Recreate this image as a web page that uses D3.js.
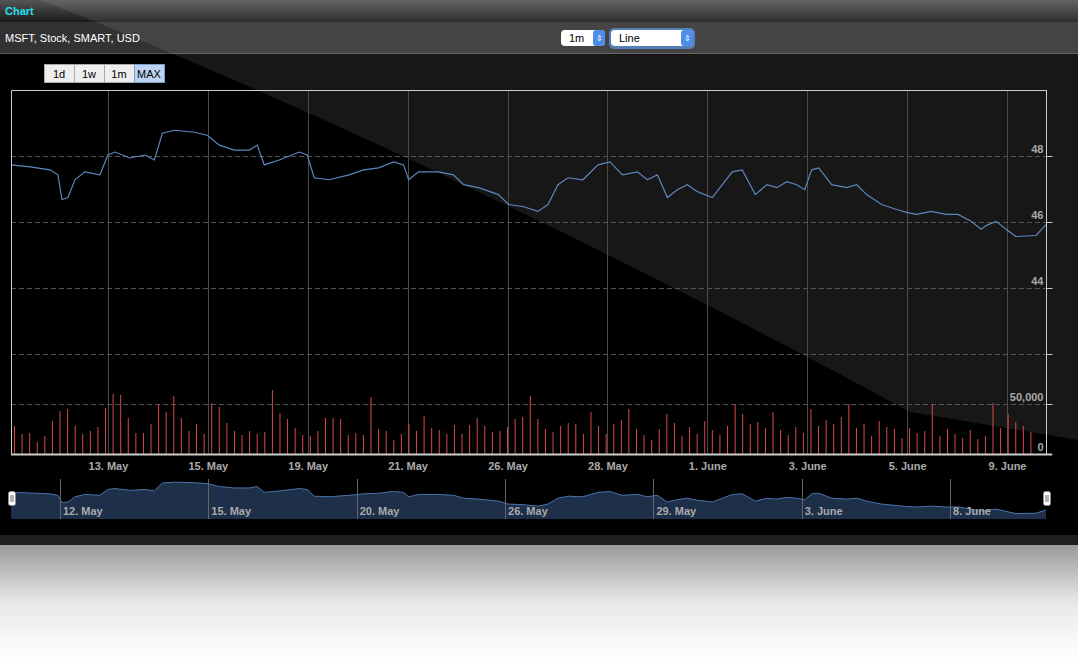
<!DOCTYPE html>
<html><head><meta charset="utf-8">
<script src="https://cdn.jsdelivr.net/npm/d3@7"></script>
<style>body{margin:0;background:#fff;font-family:"Liberation Sans",Arial,sans-serif}</style>
</head><body><div id="chart"></div>
<script>
// price samples: [trading day offset, price]
var priceT = [0,0.38,0.78,0.94,1.02,1.14,1.28,1.48,1.78,1.94,2.08,2.38,2.68,2.87,3.03,3.27,3.67,3.93,4.17,4.47,4.77,4.93,5.07,5.37,5.77,5.93,6.07,6.37,6.77,7.06,7.36,7.66,7.86,7.96,8.16,8.56,8.86,9.06,9.36,9.76,9.96,10.25,10.55,10.75,10.95,11.15,11.45,11.75,11.99,12.24,12.54,12.74,12.94,13.14,13.34,13.54,13.74,14.04,14.24,14.44,14.64,14.90,15.13,15.33,15.53,15.73,15.89,16.03,16.17,16.43,16.73,16.93,17.13,17.43,17.73,17.93,18.13,18.42,18.72,18.96,19.22,19.42,19.52,19.72,19.92,20.12,20.52,20.72];
var priceV = [47.73,47.67,47.58,47.43,46.68,46.74,47.28,47.52,47.43,48.03,48.12,47.94,48.03,47.88,48.69,48.78,48.72,48.63,48.33,48.18,48.18,48.33,47.73,47.88,48.12,48.03,47.34,47.28,47.43,47.58,47.64,47.82,47.73,47.28,47.52,47.52,47.43,47.13,47.04,46.83,46.53,46.47,46.32,46.53,47.13,47.34,47.28,47.73,47.82,47.43,47.52,47.28,47.43,46.74,46.98,47.13,46.92,46.74,47.13,47.52,47.58,46.83,47.13,47.04,47.22,47.13,46.98,47.58,47.64,47.13,47.04,47.13,46.83,46.53,46.38,46.29,46.23,46.32,46.23,46.23,46.02,45.78,45.89,46.02,45.78,45.56,45.59,45.92];
var volumes = [28,20,21,12,18,33,43,45,28,20,23,27,46,60,59,36,21,21,30,50,42,58,36,23,30,20,51,47,31,23,19,23,20,22,64,41,35,26,19,18,23,36,36,35,19,21,19,57,25,23,14,20,30,23,38,26,24,20,29,20,29,36,28,22,23,27,35,37,58,35,25,22,28,31,30,20,42,28,20,30,34,45,25,19,14,25,40,31,18,27,20,33,24,19,28,50,40,30,32,26,42,24,19,27,21,45,28,34,30,37,50,26,30,18,33,27,25,16,26,21,23,50,18,25,20,16,24,15,18,51,26,40,32,28,22];
var dayTicks = [2,4,6,8,10,12,14,16,18,20];
var dayLabels = ["13. May","15. May","19. May","21. May","26. May","28. May","1. June","3. June","5. June","9. June"];
var navTicks = [1,4,7,10,13,16,19];
var navLabels = ["12. May","15. May","20. May","26. May","29. May","3. June","8. June"];
var priceTicks = [42,44,46,48];
var volTicks = [0,50];

var W = 1078, H = 660;
var svg = d3.select("#chart").append("svg").attr("width", W).attr("height", H);
var defs = svg.append("defs");

var refl = defs.append("linearGradient").attr("id","refl").attr("x1",0).attr("y1",0).attr("x2",0).attr("y2",1);
refl.append("stop").attr("offset",0).attr("stop-color","#9a9a9a");
refl.append("stop").attr("offset",0.5).attr("stop-color","#e8e8e8");
refl.append("stop").attr("offset",1).attr("stop-color","#ffffff");
svg.append("rect").attr("x",0).attr("y",545).attr("width",W).attr("height",115).attr("fill","url(#refl)");

svg.append("rect").attr("x",0).attr("y",0).attr("width",W).attr("height",545).attr("fill","#000");
var hdr = defs.append("linearGradient").attr("id","hdr").attr("x1",0).attr("y1",0).attr("x2",0).attr("y2",1);
hdr.append("stop").attr("offset",0).attr("stop-color","#555");
hdr.append("stop").attr("offset",1).attr("stop-color","#1a1a1a");
svg.append("rect").attr("x",0).attr("y",0).attr("width",W).attr("height",22).attr("fill","url(#hdr)");
var pat = defs.append("pattern").attr("id","chk").attr("width",2).attr("height",2).attr("patternUnits","userSpaceOnUse");
pat.append("rect").attr("width",2).attr("height",2).attr("fill","#2a2a2a");
pat.append("rect").attr("width",1).attr("height",1).attr("fill","#3a3a3a");
pat.append("rect").attr("x",1).attr("y",1).attr("width",1).attr("height",1).attr("fill","#3a3a3a");
svg.append("rect").attr("x",0).attr("y",22).attr("width",W).attr("height",31).attr("fill","url(#chk)");
svg.append("line").attr("x1",0).attr("x2",W).attr("y1",53.5).attr("y2",53.5).attr("stroke","#555");
svg.append("rect").attr("x",0).attr("y",535).attr("width",W).attr("height",10).attr("fill","#1e1e1e");

// gloss
svg.append("path").attr("d","M40,0 C300,100 650,270 910,412 L" + W + ",440 L" + W + ",0 Z")
  .attr("fill","#fff").attr("opacity",0.09);

svg.append("text").attr("x",5).attr("y",15).attr("fill","#22e0f0").attr("font-weight","bold").attr("font-size",11).text("Chart");
svg.append("text").attr("x",5).attr("y",42).attr("fill","#fff").attr("font-size",11).text("MSFT, Stock, SMART, USD");

function selectBox(x, w, label, glow){
  var g = svg.append("g");
  if (glow) g.append("rect").attr("x",x-2).attr("y",28).attr("width",w+4).attr("height",21).attr("rx",5).attr("fill","#5b8fd8").attr("opacity",0.8);
  g.append("rect").attr("x",x).attr("y",30).attr("width",w).attr("height",16).attr("rx",4).attr("fill","#fff");
  g.append("rect").attr("x",x+w-12).attr("y",30).attr("width",12).attr("height",16).attr("rx",3).attr("fill","#4d8ee8");
  g.append("text").attr("x",x+8).attr("y",42).attr("font-size",11).attr("fill","#000").text(label);
  g.append("text").attr("x",x+w-6).attr("y",41).attr("font-size",8).attr("fill","#fff").attr("text-anchor","middle").text("⇕");
}
selectBox(561, 44, "1m", false);
selectBox(611, 82, "Line", true);

var btns = ["1d","1w","1m","MAX"];
btns.forEach(function(b, i){
  var bx = 44 + i*30;
  svg.append("rect").attr("x",bx+0.5).attr("y",64.5).attr("width",30).attr("height",18)
    .attr("fill", i==3 ? "#bcd4f2" : "#eee").attr("stroke", i==3 ? "#7aa0d0" : "#aaa");
  svg.append("text").attr("x",bx+15).attr("y",78).attr("text-anchor","middle").attr("font-size",11).attr("fill","#000").text(b);
});

var x0 = 11, x1 = 1046;
var x = d3.scaleLinear().domain([0.06, 20.78]).range([x0, x1]);
var y = d3.scaleLinear().domain([42, 48]).range([354, 156]);
var yv = d3.scaleLinear().domain([0, 50]).range([454, 404]);

var g = svg.append("g");
g.selectAll(".vg").data(dayTicks).enter().append("line")
  .attr("x1", function(d){ return Math.round(x(d))+0.5; }).attr("x2", function(d){ return Math.round(x(d))+0.5; })
  .attr("y1",90).attr("y2",454).attr("stroke","#4a4a4a");
g.selectAll(".hg").data(priceTicks).enter().append("line")
  .attr("x1",x0).attr("x2",x1).attr("y1", function(d){ return Math.round(y(d))+0.5; }).attr("y2", function(d){ return Math.round(y(d))+0.5; })
  .attr("stroke","#555").attr("stroke-dasharray","5,3");
g.append("line").attr("x1",x0).attr("x2",x1).attr("y1",404.5).attr("y2",404.5).attr("stroke","#555").attr("stroke-dasharray","5,3");

g.selectAll(".vb").data(volumes).enter().append("line")
  .attr("x1", function(d,i){ return x(0.12 + i*20.5/volumes.length)+0.5; })
  .attr("x2", function(d,i){ return x(0.12 + i*20.5/volumes.length)+0.5; })
  .attr("y1", 454).attr("y2", function(d){ return yv(d); })
  .attr("stroke","#d84a4a").attr("stroke-width",1);

var pts = priceT.map(function(t,i){ return [t+0.06, priceV[i]]; });
g.append("path").datum(pts).attr("fill","none").attr("stroke","#5d86bd").attr("stroke-width",1.2)
  .attr("d", d3.line().x(function(d){ return x(d[0]); }).y(function(d){ return y(d[1]); }));

// frame
g.append("path").attr("d","M"+(x0+0.5)+",454 L"+(x0+0.5)+",90.5 L"+(x1)+",90.5").attr("fill","none").attr("stroke","#ccc");
g.append("line").attr("x1",x0).attr("x2",x1+6).attr("y1",454.5).attr("y2",454.5).attr("stroke","#ccc").attr("stroke-width",2);
g.append("line").attr("x1",x1+0.5).attr("x2",x1+0.5).attr("y1",90).attr("y2",455).attr("stroke","#ccc");

var yAxis = d3.axisRight(y).tickValues(priceTicks).tickSize(6).tickFormat(function(d){ return d==42 ? "" : d; });
var ya = svg.append("g").attr("transform","translate("+(x1+0.5)+",0)").call(yAxis);
ya.select(".domain").remove();
ya.selectAll("line").attr("stroke","#ccc");
ya.selectAll("text").attr("x",-3).attr("dy","-0.3em").attr("text-anchor","end").attr("fill","#aaa").attr("font-size",11).attr("font-weight","bold");
var va = svg.append("g").attr("transform","translate("+(x1+0.5)+",0)")
  .call(d3.axisRight(yv).tickValues(volTicks).tickSize(6).tickFormat(function(d){ return d3.format(",")(d*1000); }));
va.select(".domain").remove();
va.selectAll("line").attr("stroke","#ccc");
va.selectAll("text").attr("x",-3).attr("dy","-0.3em").attr("text-anchor","end").attr("fill","#aaa").attr("font-size",11).attr("font-weight","bold");

var xa = svg.append("g").attr("transform","translate(0,455)")
  .call(d3.axisBottom(x).tickValues(dayTicks).tickSize(0).tickFormat(function(d,i){ return dayLabels[i]; }));
xa.select(".domain").remove();
xa.selectAll("text").attr("dy","1.1em").attr("fill","#aaa").attr("font-size",11).attr("font-weight","bold");

// navigator
var nx = d3.scaleLinear().domain([0.06, 20.78]).range([x0, x1]);
var ny = d3.scaleLinear().domain([45, 49]).range([519, 480]);
var nav = svg.append("g");
nav.append("path").datum(pts).attr("fill","#1e2f4a")
  .attr("d", d3.area().x(function(d){ return nx(d[0]); }).y0(519).y1(function(d){ return ny(d[1]); }));
nav.append("path").datum(pts).attr("fill","none").attr("stroke","#4a74aa")
  .attr("d", d3.line().x(function(d){ return nx(d[0]); }).y(function(d){ return ny(d[1]); }));
nav.selectAll(".nt").data(navTicks).enter().append("line")
  .attr("x1", function(d){ return Math.round(nx(d*0.99+0.05))+0.5; }).attr("x2", function(d){ return Math.round(nx(d*0.99+0.05))+0.5; })
  .attr("y1",479).attr("y2",519).attr("stroke","#666");
nav.selectAll(".nl").data(navTicks).enter().append("text")
  .attr("x", function(d){ return nx(d*0.99+0.05)+3; }).attr("y",515).attr("fill","#aaa").attr("font-size",11).attr("font-weight","bold")
  .text(function(d,i){ return navLabels[i]; });
[x0-3, x1-3].forEach(function(hx){
  nav.append("rect").attr("x",hx+0.5).attr("y",491.5).attr("width",7).attr("height",14).attr("rx",2).attr("fill","#fff").attr("stroke","#888");
  nav.append("line").attr("x1",hx+3).attr("x2",hx+3).attr("y1",495).attr("y2",502).attr("stroke","#666");
  nav.append("line").attr("x1",hx+5).attr("x2",hx+5).attr("y1",495).attr("y2",502).attr("stroke","#666");
});
</script></body></html>
